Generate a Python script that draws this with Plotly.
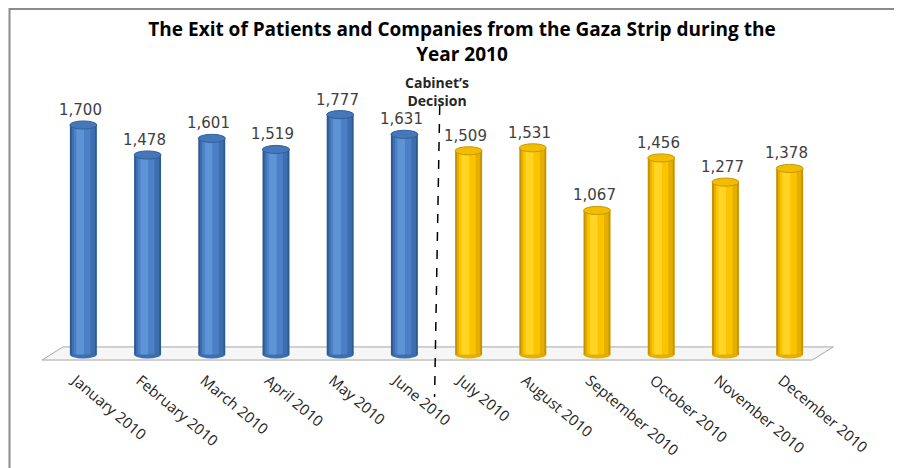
import plotly.graph_objects as go

# data
months = ["January 2010", "February 2010", "March 2010", "April 2010", "May 2010", "June 2010",
          "July 2010", "August 2010", "September 2010", "October 2010", "November 2010", "December 2010"]
exits = [1700, 1478, 1601, 1519, 1777, 1631, 1509, 1531, 1067, 1456, 1277, 1378]
decision_after = 6  # first month after the Cabinet's decision (July)

OFF = 8  # page body margin
W, H = 902 - OFF, 468 - OFF  # keep the figure inside the window (no scrollbars)
ML, MR, MT, MB = 32 - OFF, 61, 98 - OFF, 100
PW, PH = W - ML - MR, H - MT - MB

# helpers: page pixel -> paper coordinate
def px_x(px):
    return (px - OFF - ML) / PW

def px_y(py):
    return (H - MB - (py - OFF)) / PH

x = list(range(len(months)))
after = [i >= decision_after for i in x]

# cylinder shading layers (outer dark -> inner light)
blue = ["#2e5a92", "#3e6eb0", "#4c7fc3", "#5e93d6"]
gold = ["#c49300", "#e6ae00", "#fbc400", "#ffd523"]
widths = [0.42, 0.36, 0.26, 0.12]
shifts = [0, 0, -0.02, -0.05]

fig = go.Figure()
for k in range(4):
    cols = [gold[k] if a else blue[k] for a in after]
    fig.add_trace(go.Bar(
        x=x, y=exits, width=widths[k], offset=-widths[k] / 2 + shifts[k],
        marker=dict(color=cols, line=dict(width=0)),
        hoverinfo="skip", showlegend=False,
    ))

shapes = []
# floor
shapes.append(dict(type="path", xref="x", yref="y", layer="below",
                   path="M -0.645 -41 L 11.35 -41 L 11.68 56 L -0.318 56 Z",
                   fillcolor="#f6f6f6", line=dict(color="#a6a6a6", width=1)))
hw, hh = 0.21, 30
for i, v in zip(x, exits):
    a = after[i]
    # rounded bottom
    shapes.append(dict(type="circle", xref="x", yref="y", layer="below",
                       x0=i - hw, x1=i + hw, y0=-hh, y1=hh,
                       fillcolor=(gold[1] if a else blue[1]), line=dict(width=0)))
    # top cap
    shapes.append(dict(type="circle", xref="x", yref="y", layer="above",
                       x0=i - hw, x1=i + hw, y0=v - hh, y1=v + hh,
                       fillcolor=("#f2bd00" if a else "#4677b8"),
                       line=dict(color=("#c79800" if a else "#30609c"), width=1)))

# Cabinet's decision line
shapes.append(dict(type="line", xref="x", yref="paper",
                   x0=5.55, y0=px_y(106), x1=5.47, y1=px_y(397),
                   line=dict(color="black", width=1.5, dash="dash")))
# frame (only left and top edges fall inside the picture)
shapes.append(dict(type="rect", xref="paper", yref="paper",
                   x0=px_x(9.5), y0=px_y(9), x1=px_x(940), y1=px_y(500),
                   line=dict(color="#8c8c8c", width=2), fillcolor="rgba(0,0,0,0)"))

annotations = []
for i, v in zip(x, exits):
    annotations.append(dict(x=i, y=v, xref="x", yref="y", text=f"{v:,}",
                            showarrow=False, yanchor="bottom", xshift=-3, yshift=4,
                            font=dict(family="DejaVu Sans", size=15, color="#404040")))
annotations.append(dict(x=5.5, y=px_y(91), xref="x", yref="paper",
                        text="<b>Cabinet’s<br>Decision</b>", showarrow=False,
                        yanchor="middle", xanchor="center",
                        font=dict(family="Open Sans", size=14, color="#262626")))

fig.update_layout(
    width=W, height=H,
    margin=dict(l=ML, r=MR, t=MT, b=MB),
    paper_bgcolor="white", plot_bgcolor="white",
    barmode="overlay",
    title=dict(text="<b>The Exit of Patients and Companies from the Gaza Strip during the<br>Year 2010</b>",
               x=(462 - OFF) / W, xanchor="center", y=1 - 28 / H, yanchor="top",
               font=dict(family="Open Sans", size=19, color="black")),
    xaxis=dict(range=[-0.8, 11.8], tickmode="array", tickvals=[i - 0.12 for i in x], ticktext=months,
               tickangle=40, showgrid=False, zeroline=False, showline=False, ticks="",
               automargin=False,
               tickfont=dict(family="Open Sans", size=15, color="#262626")),
    yaxis=dict(range=[-100, 1900], showgrid=False, zeroline=False, showline=False,
               showticklabels=False, ticks="", automargin=False),
    shapes=shapes,
    annotations=annotations,
)

fig.write_html("out.html", config={"displayModeBar": False})
